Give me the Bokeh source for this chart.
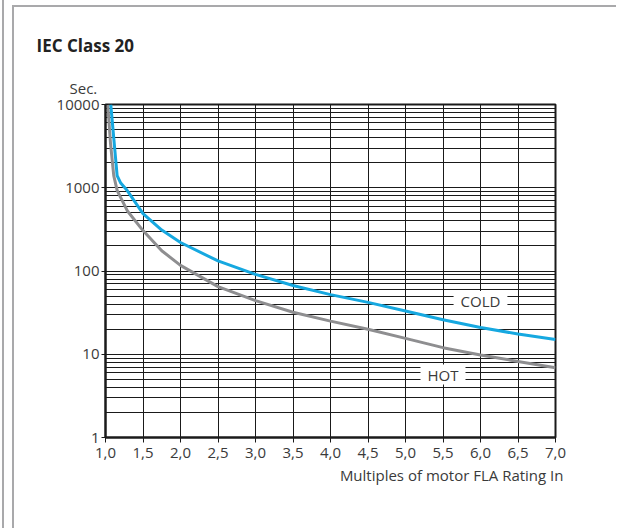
from bokeh.plotting import figure
from bokeh.models import FixedTicker, LogTicker, Label, Title, InlineStyleSheet
from bokeh.embed import file_html
from bokeh.resources import INLINE

title_text = "IEC Class 20"
y_unit_text = "Sec."
x_axis_text = "Multiples of motor FLA Rating In"

x_ticks = [1.0, 1.5, 2.0, 2.5, 3.0, 3.5, 4.0, 4.5, 5.0, 5.5, 6.0, 6.5, 7.0]
x_tick_labels = ["1,0", "1,5", "2,0", "2,5", "3,0", "3,5", "4,0", "4,5", "5,0", "5,5", "6,0", "6,5", "7,0"]
y_ticks = [1, 10, 100, 1000, 10000]
y_tick_labels = ["1", "10", "100", "1000", "10000"]

cold_x = [1.07, 1.155, 1.2, 1.29, 1.5, 1.75, 2.0, 2.5, 3.0, 3.5, 4.0, 4.5, 5.0, 5.5, 6.0, 6.5, 7.0]
cold_y = [10000, 1400, 1150, 925, 490, 310, 220, 132, 91, 67, 52, 42, 33, 26, 21, 17.5, 15]

hot_x = [1.03, 1.067, 1.11, 1.156, 1.29, 1.5, 1.75, 2.0, 2.5, 3.0, 3.5, 4.0, 4.5, 5.0, 5.5, 6.0, 6.5, 7.0]
hot_y = [10000, 3400, 1400, 925, 530, 306, 175, 117, 65, 44, 32, 25, 20, 15.5, 12, 9.8, 8.2, 6.9]

cold_label = ("COLD", 6.0, 43.5)
hot_label = ("HOT", 5.5, 5.7)

FONT = "Open Sans"
TXT = "#3a3a3a"
BORDER = "#a9a9ab"

W, H = 616, 528
FL, FT = 105, 104
FR, FB = W - 555, H - 437

p = figure(width=W, height=H, x_range=(1, 7), y_range=(1, 10000), y_axis_type="log",
           output_backend="svg", toolbar_location=None,
           min_border_left=FL, min_border_right=FR, min_border_top=FT, min_border_bottom=FB)
p.background_fill_color = "white"
p.border_fill_color = "white"
p.outline_line_color = "#1a1a1a"
p.outline_line_width = 2

# panel border lines (left double rule and top rule) as an overlay on the figure;
# a white strip masks the figure's right edge
border_css = """
:host { position: relative; border: 0 !important; outline: 0 !important; box-shadow: none !important; }
:host::before {
  content: ""; position: absolute; left: 0px; top: 0px; right: 0px; bottom: 0px;
  background-image: linear-gradient(%(c)s, %(c)s), linear-gradient(#ffffff, #ffffff);
  background-position: 2px 0px, right 0px top 7px;
  background-size: 2px 100%%, 6px 100%%;
  background-repeat: no-repeat, no-repeat;
  pointer-events: none; z-index: 10;
}
:host::after {
  content: ""; position: absolute; left: 12px; top: 5px; right: 0px; bottom: 0px;
  border-left: 2px solid %(c)s; border-top: 2px solid %(c)s; box-sizing: border-box;
  pointer-events: none; z-index: 11;
}
""" % {"c": BORDER}
p.stylesheets = [InlineStyleSheet(css=border_css)]

# grids
p.xgrid.ticker = FixedTicker(ticks=x_ticks)
p.xgrid.grid_line_color = "#1a1a1a"
p.xgrid.grid_line_width = 1
p.ygrid.ticker = LogTicker(num_minor_ticks=10)
p.ygrid.grid_line_color = "#1a1a1a"
p.ygrid.grid_line_width = 1
p.ygrid.minor_grid_line_color = "#1a1a1a"
p.ygrid.minor_grid_line_width = 1

# axes
xa = p.xaxis[0]
xa.ticker = FixedTicker(ticks=x_ticks)
xa.major_label_overrides = {t: l for t, l in zip(x_ticks, x_tick_labels)}
xa.minor_tick_line_color = None
xa.major_tick_in = 0
xa.major_tick_out = 5
xa.major_tick_line_color = "#1a1a1a"
xa.axis_line_color = "#1a1a1a"
xa.axis_line_width = 2
xa.major_label_standoff = 5
xa.major_label_text_font = FONT
xa.major_label_text_font_size = "15px"
xa.major_label_text_color = TXT

ya = p.yaxis[0]
ya.ticker = FixedTicker(ticks=y_ticks)
ya.major_label_overrides = {t: l for t, l in zip(y_ticks, y_tick_labels)}
ya.minor_tick_line_color = None
ya.major_tick_in = 3
ya.major_tick_out = 4
ya.major_tick_line_color = "#1a1a1a"
ya.axis_line_color = "#1a1a1a"
ya.axis_line_width = 2
ya.major_label_standoff = 2
ya.major_label_text_font = FONT
ya.major_label_text_font_size = "15px"
ya.major_label_text_color = TXT

# curves
p.line(hot_x, hot_y, line_color="#8e8e90", line_width=3)
p.line(cold_x, cold_y, line_color="#16a8e0", line_width=3)

# curve labels
for txt, lx, ly in (cold_label, hot_label):
    p.add_layout(Label(x=lx, y=ly, text=txt, text_align="center", text_baseline="middle",
                       text_font=FONT, text_font_size="15px", text_color=TXT,
                       background_fill_color="white",
                       padding=dict(left=7, right=7, top=0, bottom=0)))

# "Sec." just above the frame, main title above it
p.add_layout(Title(text=y_unit_text, align="left", offset=-36, standoff=13,
                   text_font=FONT, text_font_size="15px", text_font_style="normal",
                   text_color=TXT), "above")
p.title.text = title_text
p.title.align = "left"
p.title.offset = -69
p.title.standoff = 25
p.title.text_font = FONT
p.title.text_font_size = "17px"
p.title.text_font_style = "bold"
p.title.text_color = "#222222"

# x-axis caption, right aligned under the tick labels
p.add_layout(Title(text=x_axis_text, align="right", offset=-8, standoff=4,
                   text_font=FONT, text_font_size="15px", text_font_style="normal",
                   text_color=TXT), "below")

open("out.html", "w").write(file_html(p, INLINE))
